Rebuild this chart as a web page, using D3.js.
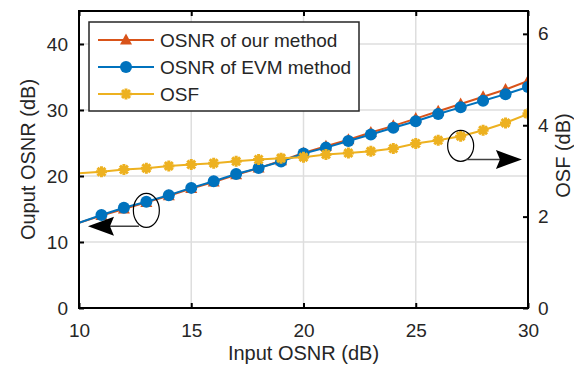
<!DOCTYPE html>
<html>
<head>
<meta charset="utf-8">
<script src="https://cdn.jsdelivr.net/npm/d3@7"></script>
<style>
  body { margin: 0; background: #fff; }
  text { font-family: "Liberation Sans", Arial, sans-serif; fill: #262626; }
</style>
</head>
<body>
<svg id="chart" width="574" height="369"></svg>
<script>
// values
const inputOsnr = [10, 11, 12, 13, 14, 15, 16, 17, 18, 19, 20, 21, 22, 23, 24, 25, 26, 27, 28, 29, 30];
const osnrOurs  = [12.9, 14.0, 15.0, 16.0, 17.0, 18.1, 19.1, 20.2, 21.2, 22.3, 23.5, 24.5, 25.5, 26.6, 27.6, 28.7, 29.8, 30.9, 32.0, 33.1, 34.4];
const osnrEvm   = [12.9, 14.1, 15.2, 16.1, 17.1, 18.2, 19.2, 20.3, 21.2, 22.2, 23.4, 24.3, 25.3, 26.3, 27.3, 28.3, 29.4, 30.4, 31.4, 32.4, 33.5];
const osf       = [2.95, 2.98, 3.03, 3.06, 3.11, 3.14, 3.17, 3.21, 3.25, 3.28, 3.30, 3.36, 3.39, 3.43, 3.49, 3.60, 3.67, 3.76, 3.89, 4.05, 4.25];
const xTicks = [10, 15, 20, 25, 30];
const yLeftTicks = [0, 10, 20, 30, 40];
const yRightTicks = [0, 2, 4, 6];
const legendLabels = ["OSNR of our method", "OSNR of EVM method", "OSF"];

const colors = ["#D95319", "#0072BD", "#EDB120"];
const plot = { left: 79, right: 528, top: 11, bottom: 308 };

const svg = d3.select("#chart");

const x = d3.scaleLinear().domain([10, 30]).range([plot.left, plot.right]);
const yL = d3.scaleLinear().domain([0, 45]).range([plot.bottom, plot.top]);
const yR = d3.scaleLinear().domain([0, 6.5]).range([plot.bottom, plot.top]);

// grid
const grid = svg.append("g").attr("stroke", "#dedede").attr("stroke-width", 1.5);
grid.selectAll(".gx").data(xTicks.slice(1, -1)).enter().append("line")
  .attr("x1", d => x(d)).attr("x2", d => x(d))
  .attr("y1", plot.top).attr("y2", plot.bottom);
grid.selectAll(".gy").data(yLeftTicks.slice(1)).enter().append("line")
  .attr("x1", plot.left).attr("x2", plot.right)
  .attr("y1", d => yL(d)).attr("y2", d => yL(d));

// axes (ticks inside)
function styleAxis(g) {
  g.select(".domain").remove();
  g.selectAll(".tick line").attr("stroke", "#000").attr("stroke-width", 2);
  g.selectAll(".tick text").attr("font-size", 19).attr("fill", "#262626")
    .style("font-family", '"Liberation Sans", Arial, sans-serif');
}
const fmt = d3.format("d");
svg.append("g").attr("transform", `translate(0,${plot.bottom})`)
  .call(d3.axisBottom(x).tickValues(xTicks).tickSize(-5).tickPadding(16).tickFormat(fmt))
  .call(styleAxis);
svg.append("g").attr("transform", `translate(0,${plot.top})`)
  .call(d3.axisTop(x).tickValues(xTicks).tickSize(-5).tickFormat(""))
  .call(styleAxis);
svg.append("g").attr("transform", `translate(${plot.left},0)`)
  .call(d3.axisLeft(yL).tickValues(yLeftTicks).tickSize(-5).tickPadding(11).tickFormat(fmt))
  .call(styleAxis);
svg.append("g").attr("transform", `translate(${plot.right},0)`)
  .call(d3.axisRight(yR).tickValues(yRightTicks).tickSize(-5).tickPadding(10).tickFormat(fmt))
  .call(styleAxis);

// series
svg.append("clipPath").attr("id", "clip").append("rect")
  .attr("x", plot.left).attr("y", plot.top)
  .attr("width", plot.right - plot.left).attr("height", plot.bottom - plot.top);

const series = [
  { values: osnrOurs, scale: yL, color: colors[0], marker: "tri" },
  { values: osnrEvm, scale: yL, color: colors[1], marker: "circle" },
  { values: osf, scale: yR, color: colors[2], marker: "star" }
];

function drawMarker(g, type, color) {
  if (type === "tri") {
    g.append("path").attr("d", "M0,-6.5L6,4.5L-6,4.5Z").attr("fill", color);
  } else if (type === "circle") {
    g.append("circle").attr("r", 6).attr("fill", color);
  } else {
    const r = 5.5;
    const s = r * 0.72;
    g.append("path")
      .attr("d", `M${-r},0H${r}M0,${-r}V${r}M${-s},${-s}L${s},${s}M${-s},${s}L${s},${-s}`)
      .attr("stroke", color).attr("stroke-width", 3).attr("fill", "none");
  }
}

const plotG = svg.append("g").attr("clip-path", "url(#clip)");
series.forEach(s => {
  const pts = inputOsnr.map((v, i) => [v, s.values[i]]);
  plotG.append("path")
    .datum(pts)
    .attr("fill", "none")
    .attr("stroke", s.color)
    .attr("stroke-width", 2)
    .attr("d", d3.line().x(d => x(d[0])).y(d => s.scale(d[1])));
  pts.filter(d => d[0] > xTicks[0]).forEach(d => {
    const m = plotG.append("g").attr("transform", `translate(${x(d[0])},${s.scale(d[1])})`);
    drawMarker(m, s.marker, s.color);
  });
});

// annotations: ellipses + arrows
function arrowHead(tipX, tipY, dir) {
  const len = 26, half = 9.5, notch = 22;
  return `M${tipX},${tipY}L${tipX + dir * len},${tipY - half}L${tipX + dir * notch},${tipY}L${tipX + dir * len},${tipY + half}Z`;
}
const ann = svg.append("g");
ann.append("ellipse").attr("cx", x(13)).attr("cy", yL(14.8)).attr("rx", 13).attr("ry", 17)
  .attr("fill", "none").attr("stroke", "#000").attr("stroke-width", 1.2);
ann.append("line").attr("x1", x(12.67)).attr("x2", x(11)).attr("y1", yL(12.4)).attr("y2", yL(12.4))
  .attr("stroke", "#404040").attr("stroke-width", 1.5);
ann.append("path").attr("d", arrowHead(x(10.4), yL(12.4), 1)).attr("fill", "#000");

ann.append("ellipse").attr("cx", x(27)).attr("cy", yR(3.55)).attr("rx", 13).attr("ry", 15.5)
  .attr("fill", "none").attr("stroke", "#000").attr("stroke-width", 1.2);
ann.append("line").attr("x1", x(27.24)).attr("x2", x(29.1)).attr("y1", yR(3.25)).attr("y2", yR(3.25))
  .attr("stroke", "#404040").attr("stroke-width", 1.5);
ann.append("path").attr("d", arrowHead(x(29.73), yR(3.25), -1)).attr("fill", "#000");

// legend
const legend = svg.append("g").attr("transform", "translate(89,22)");
legend.append("rect").attr("width", 270).attr("height", 89)
  .attr("fill", "#fff").attr("stroke", "#262626").attr("stroke-width", 1.5);
legendLabels.forEach((label, i) => {
  const row = legend.append("g").attr("transform", `translate(0,${18 + i * 27})`);
  row.append("line").attr("x1", 9).attr("x2", 65).attr("stroke", series[i].color).attr("stroke-width", 2);
  drawMarker(row.append("g").attr("transform", "translate(37,0)"), series[i].marker, series[i].color);
  row.append("text").attr("x", 71).attr("dy", "0.35em").attr("font-size", 19).text(label);
});

// axis labels
svg.append("text").attr("x", (plot.left + plot.right) / 2).attr("y", 360)
  .attr("text-anchor", "middle").attr("font-size", 20).text("Input OSNR (dB)");
svg.append("text").attr("transform", `translate(35,${(plot.top + plot.bottom) / 2}) rotate(-90)`)
  .attr("text-anchor", "middle").attr("font-size", 20).text("Ouput OSNR (dB)");
svg.append("text").attr("transform", `translate(570,${(plot.top + plot.bottom) / 2 - 4}) rotate(-90)`)
  .attr("text-anchor", "middle").attr("font-size", 20).text("OSF (dB)");

// box
svg.append("rect").attr("x", plot.left).attr("y", plot.top)
  .attr("width", plot.right - plot.left).attr("height", plot.bottom - plot.top)
  .attr("fill", "none").attr("stroke", "#000").attr("stroke-width", 2);
</script>
</body>
</html>
